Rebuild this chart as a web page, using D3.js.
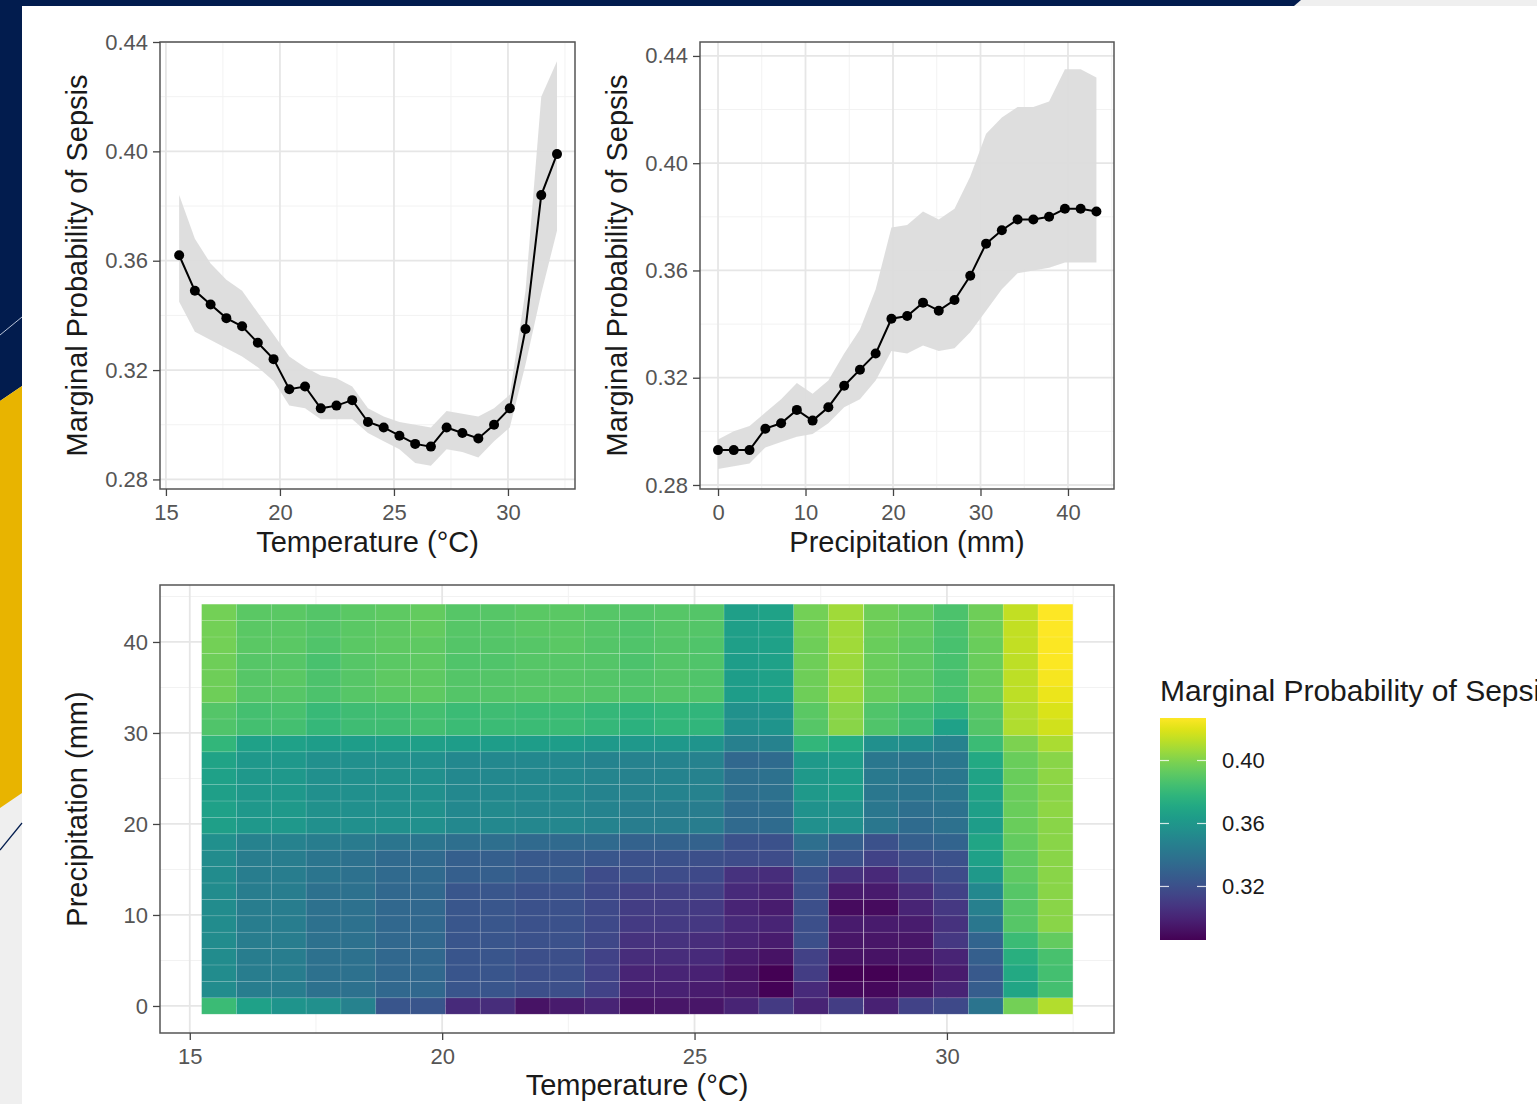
<!DOCTYPE html>
<html>
<head>
<meta charset="utf-8">
<script src="https://cdn.jsdelivr.net/npm/d3@7"></script>
<style>
  body { margin: 0; background: #fff; }
  svg { display: block; font-family: "Liberation Sans", Arial, sans-serif; }
</style>
</head>
<body>
<div id="chart"></div>
<script>
// ---- data ----
var temperature = [15.58, 16.27, 16.96, 17.65, 18.34, 19.03, 19.72, 20.41, 21.10, 21.79, 22.48, 23.17, 23.86,
                   24.55, 25.24, 25.93, 26.62, 27.31, 28.00, 28.70, 29.39, 30.08, 30.77, 31.46, 32.15];
var tempProb  = [0.362, 0.349, 0.344, 0.339, 0.336, 0.330, 0.324, 0.313, 0.314, 0.306, 0.307, 0.309, 0.301,
                 0.299, 0.296, 0.293, 0.292, 0.299, 0.297, 0.295, 0.300, 0.306, 0.335, 0.384, 0.399];
var tempLower = [0.345, 0.334, 0.331, 0.328, 0.325, 0.321, 0.316, 0.307, 0.306, 0.302, 0.302, 0.302, 0.297,
                 0.294, 0.291, 0.286, 0.285, 0.291, 0.290, 0.288, 0.294, 0.299, 0.322, 0.348, 0.371];
var tempUpper = [0.384, 0.368, 0.359, 0.353, 0.349, 0.341, 0.333, 0.325, 0.321, 0.318, 0.317, 0.314, 0.306,
                 0.303, 0.301, 0.300, 0.299, 0.305, 0.304, 0.303, 0.306, 0.311, 0.349, 0.420, 0.433];

var precipitation = [0, 1.80, 3.60, 5.41, 7.21, 9.01, 10.81, 12.61, 14.42, 16.22, 18.02, 19.82, 21.62,
                     23.43, 25.23, 27.03, 28.83, 30.64, 32.44, 34.24, 36.04, 37.84, 39.65, 41.45, 43.25];
var precipProb  = [0.293, 0.293, 0.293, 0.301, 0.303, 0.308, 0.304, 0.309, 0.317, 0.323, 0.329, 0.342, 0.343,
                   0.348, 0.345, 0.349, 0.358, 0.370, 0.375, 0.379, 0.379, 0.380, 0.383, 0.383, 0.382];
var precipLower = [0.286, 0.287, 0.288, 0.294, 0.296, 0.298, 0.299, 0.303, 0.309, 0.312, 0.319, 0.330, 0.329,
                   0.332, 0.330, 0.331, 0.337, 0.345, 0.353, 0.359, 0.360, 0.361, 0.363, 0.363, 0.363];
var precipUpper = [0.297, 0.300, 0.302, 0.307, 0.312, 0.318, 0.314, 0.319, 0.329, 0.338, 0.353, 0.376, 0.377,
                   0.382, 0.379, 0.383, 0.395, 0.411, 0.417, 0.421, 0.421, 0.423, 0.435, 0.435, 0.432];

// one row per precipitation value (bottom to top), one column per temperature value
var sepsisGrid = [
  [0.382,0.366,0.359,0.356,0.348,0.323,0.323,0.303,0.304,0.293,0.296,0.300,0.293,0.294,0.294,0.300,0.310,0.300,0.311,0.299,0.314,0.317,0.340,0.397,0.411],
  [0.354,0.345,0.345,0.338,0.338,0.333,0.333,0.323,0.323,0.320,0.320,0.314,0.299,0.299,0.297,0.294,0.287,0.303,0.289,0.289,0.293,0.300,0.327,0.369,0.385],
  [0.354,0.345,0.345,0.338,0.338,0.333,0.333,0.323,0.323,0.320,0.320,0.314,0.300,0.300,0.299,0.293,0.286,0.311,0.286,0.286,0.289,0.296,0.325,0.371,0.385],
  [0.354,0.345,0.345,0.338,0.338,0.333,0.333,0.323,0.323,0.320,0.320,0.314,0.304,0.304,0.303,0.297,0.293,0.313,0.293,0.293,0.294,0.300,0.328,0.375,0.386],
  [0.354,0.345,0.345,0.338,0.338,0.333,0.333,0.323,0.323,0.321,0.321,0.316,0.306,0.306,0.304,0.300,0.297,0.320,0.294,0.294,0.294,0.309,0.331,0.382,0.393],
  [0.354,0.345,0.345,0.338,0.338,0.333,0.333,0.324,0.324,0.321,0.321,0.317,0.310,0.310,0.309,0.302,0.300,0.320,0.296,0.296,0.297,0.306,0.342,0.390,0.402],
  [0.354,0.345,0.345,0.338,0.338,0.333,0.333,0.324,0.324,0.321,0.321,0.317,0.311,0.311,0.310,0.300,0.297,0.320,0.290,0.290,0.300,0.309,0.347,0.390,0.402],
  [0.354,0.345,0.345,0.338,0.338,0.333,0.333,0.324,0.324,0.321,0.321,0.317,0.313,0.313,0.313,0.303,0.300,0.320,0.296,0.296,0.304,0.314,0.352,0.390,0.402],
  [0.354,0.345,0.345,0.341,0.338,0.334,0.334,0.328,0.328,0.325,0.325,0.318,0.320,0.318,0.317,0.306,0.304,0.321,0.306,0.302,0.313,0.318,0.362,0.392,0.402],
  [0.354,0.345,0.345,0.341,0.338,0.334,0.334,0.328,0.328,0.325,0.325,0.324,0.321,0.321,0.320,0.318,0.318,0.328,0.321,0.314,0.318,0.321,0.366,0.392,0.402],
  [0.356,0.348,0.348,0.345,0.344,0.341,0.341,0.337,0.337,0.334,0.334,0.334,0.330,0.330,0.330,0.321,0.321,0.337,0.328,0.321,0.328,0.331,0.369,0.393,0.402],
  [0.365,0.361,0.361,0.356,0.356,0.356,0.356,0.352,0.352,0.351,0.351,0.349,0.345,0.345,0.345,0.334,0.335,0.356,0.356,0.342,0.335,0.338,0.364,0.395,0.402],
  [0.366,0.361,0.362,0.357,0.356,0.356,0.357,0.352,0.353,0.351,0.351,0.349,0.346,0.345,0.345,0.335,0.336,0.358,0.358,0.342,0.337,0.339,0.365,0.395,0.403],
  [0.365,0.361,0.361,0.356,0.356,0.356,0.356,0.352,0.352,0.352,0.352,0.349,0.348,0.349,0.348,0.337,0.338,0.362,0.364,0.342,0.340,0.342,0.368,0.395,0.402],
  [0.366,0.361,0.361,0.356,0.356,0.357,0.356,0.352,0.352,0.352,0.352,0.350,0.348,0.349,0.348,0.337,0.338,0.362,0.364,0.343,0.340,0.342,0.368,0.395,0.403],
  [0.368,0.361,0.361,0.356,0.356,0.356,0.356,0.352,0.352,0.352,0.352,0.349,0.348,0.349,0.348,0.333,0.335,0.362,0.364,0.342,0.340,0.342,0.371,0.395,0.402],
  [0.379,0.366,0.366,0.364,0.364,0.365,0.365,0.364,0.364,0.364,0.364,0.362,0.361,0.361,0.359,0.347,0.348,0.379,0.373,0.356,0.355,0.348,0.382,0.399,0.409],
  [0.388,0.385,0.385,0.380,0.383,0.383,0.385,0.382,0.382,0.382,0.382,0.380,0.376,0.379,0.378,0.356,0.359,0.390,0.402,0.388,0.383,0.366,0.389,0.410,0.417],
  [0.389,0.385,0.386,0.381,0.383,0.384,0.385,0.382,0.383,0.382,0.382,0.380,0.377,0.379,0.378,0.357,0.359,0.391,0.402,0.388,0.384,0.378,0.390,0.410,0.419],
  [0.396,0.390,0.390,0.387,0.390,0.391,0.392,0.389,0.389,0.390,0.390,0.389,0.388,0.389,0.388,0.364,0.366,0.396,0.406,0.395,0.392,0.386,0.395,0.413,0.423],
  [0.396,0.390,0.391,0.387,0.390,0.392,0.392,0.389,0.389,0.390,0.390,0.389,0.388,0.389,0.388,0.364,0.366,0.396,0.406,0.395,0.392,0.386,0.395,0.413,0.425],
  [0.396,0.390,0.390,0.386,0.390,0.391,0.392,0.388,0.388,0.390,0.390,0.389,0.387,0.389,0.388,0.364,0.366,0.396,0.406,0.395,0.392,0.386,0.395,0.413,0.426],
  [0.397,0.391,0.391,0.388,0.391,0.392,0.392,0.389,0.389,0.390,0.391,0.389,0.388,0.389,0.388,0.365,0.366,0.396,0.407,0.395,0.392,0.386,0.395,0.414,0.426],
  [0.397,0.391,0.391,0.389,0.391,0.392,0.393,0.390,0.390,0.391,0.391,0.390,0.388,0.390,0.389,0.365,0.367,0.397,0.407,0.396,0.393,0.387,0.396,0.414,0.427],
  [0.397,0.391,0.391,0.389,0.391,0.392,0.393,0.390,0.390,0.391,0.391,0.390,0.389,0.390,0.389,0.365,0.367,0.397,0.407,0.396,0.393,0.387,0.396,0.414,0.427]
];

// ticks
var probTicks = [0.28, 0.32, 0.36, 0.40, 0.44];
var probMinor = [0.30, 0.34, 0.38, 0.42];
var tempTicks = [15, 20, 25, 30];
var tempMinor = [17.5, 22.5, 27.5, 32.5];
var precipTicks = [0, 10, 20, 30, 40];
var precipMinor = [5, 15, 25, 35, 45];
var legendTicks = [0.32, 0.36, 0.40];

var probTitle = "Marginal Probability of Sepsis";
var tempTitle = "Temperature (\u00B0C)";
var precipTitle = "Precipitation (mm)";

// ---- page ----
var W = 1537, H = 1104;
var svg = d3.select("#chart").append("svg")
    .attr("width", W)
    .attr("height", H);

// slide backdrop around the pasted figure
svg.append("rect").attr("width", W).attr("height", H).attr("fill", "#ffffff");
svg.append("rect").attr("x", 0).attr("y", 0).attr("width", W).attr("height", 6).attr("fill", "#efefef");
svg.append("polygon").attr("points", "0,0 1301,0 1294,6 0,6").attr("fill", "#021c4e");
svg.append("rect").attr("x", 0).attr("y", 0).attr("width", 22).attr("height", H).attr("fill", "#efefef");
svg.append("polygon").attr("points", "0,0 22,0 22,386 0,401").attr("fill", "#021c4e");
svg.append("polygon").attr("points", "0,401 22,386 22,793 0,808").attr("fill", "#e8b400");
svg.append("line").attr("x1", 0).attr("y1", 335).attr("x2", 22).attr("y2", 317)
    .attr("stroke", "#b9c3d8").attr("stroke-width", 1);
svg.append("line").attr("x1", 0).attr("y1", 850).attr("x2", 22).attr("y2", 823)
    .attr("stroke", "#021c4e").attr("stroke-width", 1.2);

var tickFont = 22, titleFont = 29;

function drawGrid(g, x, y, xMajor, xMinor, yMajor, yMinor) {
    var x0 = x.range()[0], x1 = x.range()[1], y0 = y.range()[0], y1 = y.range()[1];
    g.selectAll(".vminor").data(xMinor).enter().append("line")
        .attr("x1", d => x(d)).attr("x2", d => x(d)).attr("y1", y0).attr("y2", y1)
        .attr("stroke", "#f2f2f2").attr("stroke-width", 1);
    g.selectAll(".hminor").data(yMinor).enter().append("line")
        .attr("x1", x0).attr("x2", x1).attr("y1", d => y(d)).attr("y2", d => y(d))
        .attr("stroke", "#f2f2f2").attr("stroke-width", 1);
    g.selectAll(".vmajor").data(xMajor).enter().append("line")
        .attr("x1", d => x(d)).attr("x2", d => x(d)).attr("y1", y0).attr("y2", y1)
        .attr("stroke", "#e6e6e6").attr("stroke-width", 1.8);
    g.selectAll(".hmajor").data(yMajor).enter().append("line")
        .attr("x1", x0).attr("x2", x1).attr("y1", d => y(d)).attr("y2", d => y(d))
        .attr("stroke", "#e6e6e6").attr("stroke-width", 1.8);
}

function drawAxes(g, x, y, xTicks, yTicks, yFormat) {
    var bottom = y.range()[0], left = x.range()[0];
    var ax = g.append("g").attr("transform", "translate(0," + bottom + ")")
        .call(d3.axisBottom(x).tickValues(xTicks).tickSize(7).tickPadding(8).tickFormat(d3.format("d")));
    var ay = g.append("g").attr("transform", "translate(" + left + ",0)")
        .call(d3.axisLeft(y).tickValues(yTicks).tickSize(7).tickPadding(5).tickFormat(yFormat));
    [ax, ay].forEach(function(a) {
        a.select(".domain").remove();
        a.selectAll("line").attr("stroke", "#444").attr("stroke-width", 1.3);
        a.selectAll("text").attr("fill", "#555").attr("font-size", tickFont)
            .attr("font-family", "Liberation Sans, Arial, sans-serif");
    });
}

function drawBorder(g, x, y) {
    g.append("rect")
        .attr("x", x.range()[0]).attr("y", y.range()[1])
        .attr("width", x.range()[1] - x.range()[0])
        .attr("height", y.range()[0] - y.range()[1])
        .attr("fill", "none").attr("stroke", "#555").attr("stroke-width", 1.5);
}

function lineChart(xs, mean, lower, upper, x, y, xTicks, xMinor, xTitle, yTitleX) {
    var g = svg.append("g");
    drawGrid(g, x, y, xTicks, xMinor, probTicks, probMinor);

    var pts = xs.map(function(v, i) { return { x: v, m: mean[i], lo: lower[i], hi: upper[i] }; });

    g.append("path").datum(pts)
        .attr("d", d3.area().x(d => x(d.x)).y0(d => y(d.lo)).y1(d => y(d.hi)))
        .attr("fill", "#dcdcdc").attr("opacity", 0.95);
    g.append("path").datum(pts)
        .attr("d", d3.line().x(d => x(d.x)).y(d => y(d.m)))
        .attr("fill", "none").attr("stroke", "#000").attr("stroke-width", 2);
    g.selectAll(".pt").data(pts).enter().append("circle")
        .attr("cx", d => x(d.x)).attr("cy", d => y(d.m)).attr("r", 5)
        .attr("fill", "#000");

    drawBorder(g, x, y);
    drawAxes(g, x, y, xTicks, probTicks, d3.format(".2f"));

    g.append("text")
        .attr("x", (x.range()[0] + x.range()[1]) / 2).attr("y", 552)
        .attr("text-anchor", "middle").attr("font-size", titleFont).attr("fill", "#1a1a1a")
        .text(xTitle);
    g.append("text")
        .attr("transform", "translate(" + yTitleX + "," + ((y.range()[0] + y.range()[1]) / 2) + ") rotate(-90)")
        .attr("text-anchor", "middle").attr("font-size", titleFont).attr("fill", "#1a1a1a")
        .text(probTitle);
}

// ---- panel 1: temperature ----
var x1 = d3.scaleLinear().domain([14.74, 32.94]).range([160, 575]);
var y1 = d3.scaleLinear().domain([0.2765, 0.44]).range([489, 42]);
lineChart(temperature, tempProb, tempLower, tempUpper, x1, y1, tempTicks, tempMinor, tempTitle, 87);

// ---- panel 2: precipitation ----
var x2 = d3.scaleLinear().domain([-2.06, 45.26]).range([700, 1114]);
var y2 = d3.scaleLinear().domain([0.2785, 0.4452]).range([489, 42]);
lineChart(precipitation, precipProb, precipLower, precipUpper, x2, y2, precipTicks, precipMinor, precipTitle, 627);

// ---- panel 3: heat map ----
var xh = d3.scaleLinear().domain([14.41, 33.31]).range([160, 1114]);
var yh = d3.scaleLinear().domain([-2.97, 46.26]).range([1033, 585]);
var gh = svg.append("g");
drawGrid(gh, xh, yh, tempTicks, tempMinor, precipTicks, precipMinor);

var cells = [];
sepsisGrid.forEach(function(row, i) {
    row.forEach(function(v, j) {
        cells.push({ t: temperature[j], p: precipitation[i], v: v });
    });
});
var color = d3.scaleSequential(d3.interpolateViridis).domain(d3.extent(cells, d => d.v));
var tw = xh(temperature[1]) - xh(temperature[0]);
var th = yh(precipitation[0]) - yh(precipitation[1]);

gh.selectAll(".tile").data(cells).enter().append("rect")
    .attr("x", d => xh(d.t) - tw / 2)
    .attr("y", d => yh(d.p) - th / 2)
    .attr("width", tw).attr("height", th)
    .attr("fill", d => color(d.v))
    .attr("stroke", "rgba(255,255,255,0.12)").attr("stroke-width", 0.8);

drawBorder(gh, xh, yh);
drawAxes(gh, xh, yh, tempTicks, precipTicks, d3.format("d"));
gh.append("text")
    .attr("x", (160 + 1114) / 2).attr("y", 1095)
    .attr("text-anchor", "middle").attr("font-size", titleFont).attr("fill", "#1a1a1a")
    .text(tempTitle);
gh.append("text")
    .attr("transform", "translate(87," + ((585 + 1033) / 2) + ") rotate(-90)")
    .attr("text-anchor", "middle").attr("font-size", titleFont).attr("fill", "#1a1a1a")
    .text(precipTitle);

// ---- colour bar legend ----
var lg = svg.append("g");
var barX = 1160, barW = 46;
var yl = d3.scaleLinear().domain(color.domain()).range([940, 718]);

var grad = svg.append("defs").append("linearGradient")
    .attr("id", "viridisBar").attr("x1", 0).attr("y1", 1).attr("x2", 0).attr("y2", 0);
d3.range(0, 1.0001, 0.05).forEach(function(s) {
    grad.append("stop").attr("offset", s).attr("stop-color", d3.interpolateViridis(s));
});
lg.append("rect").attr("x", barX).attr("y", yl.range()[1])
    .attr("width", barW).attr("height", yl.range()[0] - yl.range()[1])
    .attr("fill", "url(#viridisBar)");

lg.selectAll(".ltl").data(legendTicks).enter().append("line")
    .attr("x1", barX).attr("x2", barX + 9).attr("y1", d => yl(d)).attr("y2", d => yl(d))
    .attr("stroke", "#ffffff").attr("stroke-width", 1.2).attr("opacity", 0.8);
lg.selectAll(".ltr").data(legendTicks).enter().append("line")
    .attr("x1", barX + barW - 9).attr("x2", barX + barW).attr("y1", d => yl(d)).attr("y2", d => yl(d))
    .attr("stroke", "#ffffff").attr("stroke-width", 1.2).attr("opacity", 0.8);
lg.selectAll(".ltx").data(legendTicks).enter().append("text")
    .attr("x", barX + barW + 16).attr("y", d => yl(d)).attr("dy", "0.36em")
    .attr("font-size", tickFont).attr("fill", "#1a1a1a")
    .text(d => d3.format(".2f")(d));
lg.append("text")
    .attr("x", barX).attr("y", 701)
    .attr("font-size", 30).attr("fill", "#1a1a1a")
    .text(probTitle);
</script>
</body>
</html>
